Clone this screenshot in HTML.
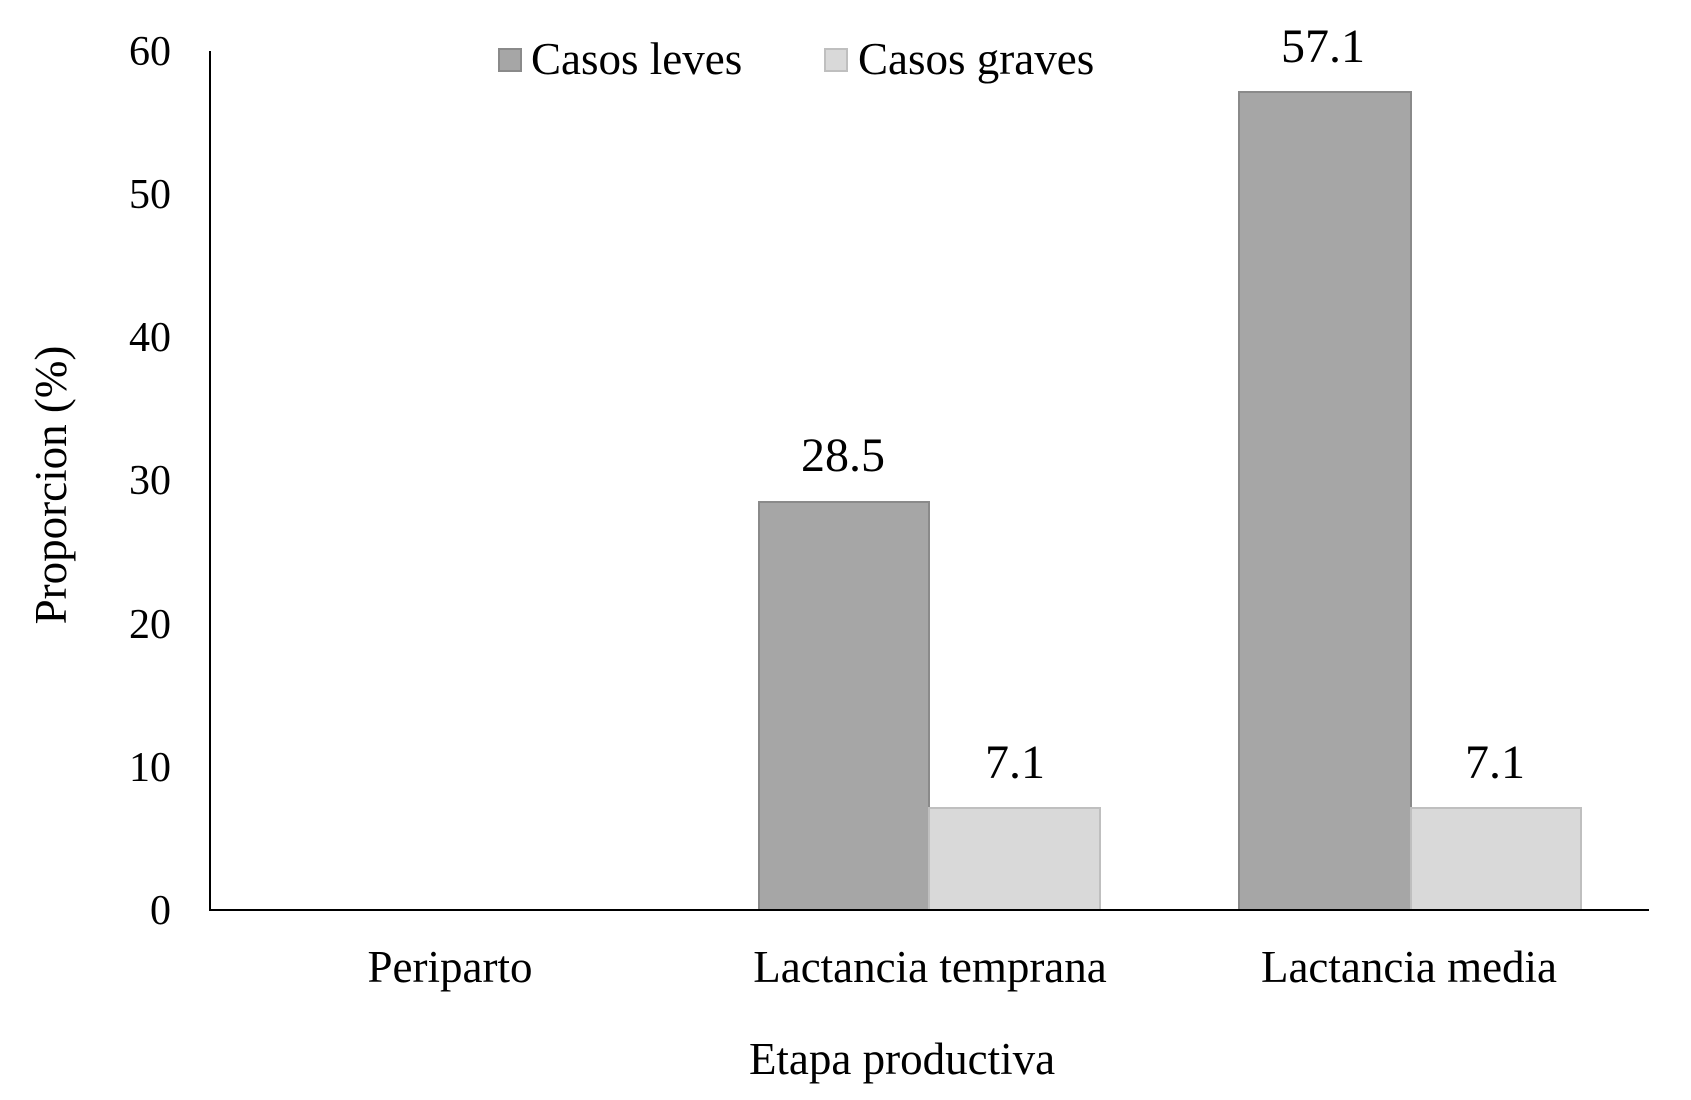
<!DOCTYPE html>
<html><head><meta charset="utf-8"><style>
html,body{margin:0;padding:0;background:#fff;}
svg{display:block;}
text{font-family:"Liberation Serif",serif;fill:#000;}
</style></head><body>
<svg width="1691" height="1100" viewBox="0 0 1691 1100">
<g font-size="42" text-anchor="end">
<text x="171" y="924">0</text>
<text x="171" y="781">10</text>
<text x="171" y="638">20</text>
<text x="171" y="494">30</text>
<text x="171" y="351">40</text>
<text x="171" y="208">50</text>
<text x="171" y="65">60</text>
</g>
<rect x="759" y="502" width="170" height="408" fill="#a6a6a6" stroke="#8a8a8a" stroke-width="2"/>
<rect x="929" y="808" width="171" height="102" fill="#d9d9d9" stroke="#bfbfbf" stroke-width="2"/>
<rect x="1239" y="92" width="172" height="818" fill="#a6a6a6" stroke="#8a8a8a" stroke-width="2"/>
<rect x="1411" y="808" width="170" height="102" fill="#d9d9d9" stroke="#bfbfbf" stroke-width="2"/>
<line x1="210" y1="51" x2="210" y2="911" stroke="#000" stroke-width="2"/>
<line x1="209" y1="910" x2="1649" y2="910" stroke="#000" stroke-width="2"/>
<g font-size="48" text-anchor="middle">
<text x="843" y="471">28.5</text>
<text x="1015" y="778">7.1</text>
<text x="1323" y="62">57.1</text>
<text x="1495" y="778">7.1</text>
</g>
<g font-size="45" text-anchor="middle">
<text x="450" y="982">Periparto</text>
<text x="930" y="982">Lactancia temprana</text>
<text x="1409" y="982">Lactancia media</text>
<text x="902" y="1074">Etapa productiva</text>
<text transform="translate(66,485) rotate(-90)">Proporcion (%)</text>
</g>
<rect x="499" y="49" width="22" height="22" fill="#a6a6a6" stroke="#8a8a8a" stroke-width="2"/>
<text x="531" y="74" font-size="45">Casos leves</text>
<rect x="825" y="49" width="22" height="22" fill="#d9d9d9" stroke="#bfbfbf" stroke-width="2"/>
<text x="858" y="74" font-size="45">Casos graves</text>
</svg>
</body></html>
